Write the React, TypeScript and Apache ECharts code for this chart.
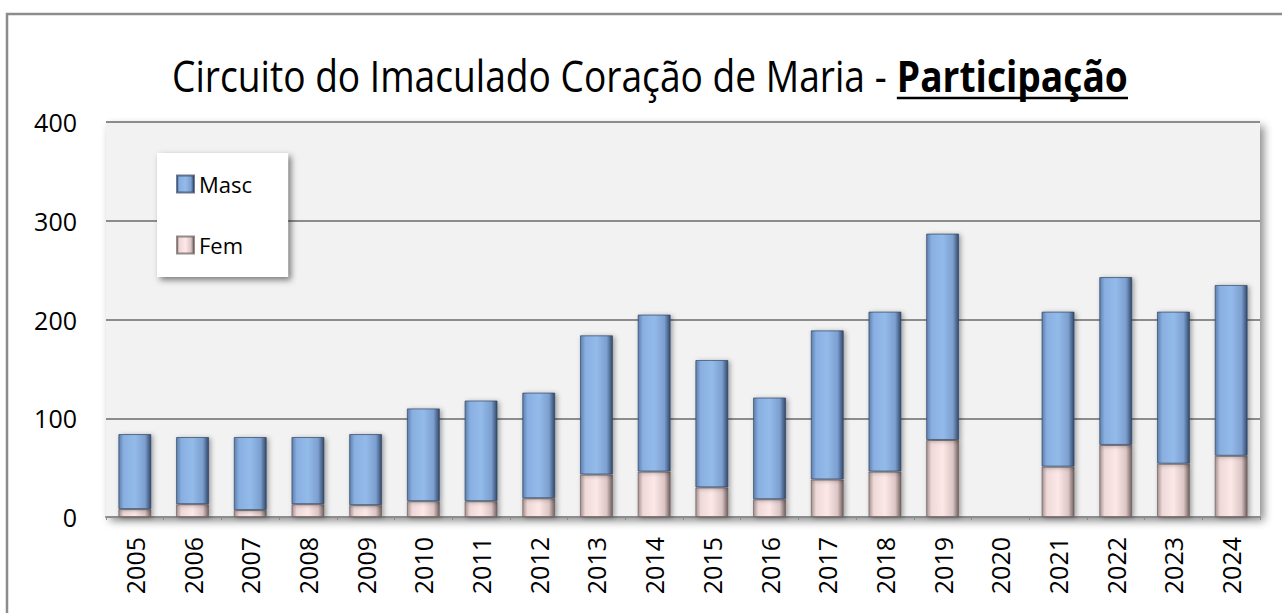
import React, { useEffect, useRef } from "react";
import * as echarts from "echarts";

const years = ["2005","2006","2007","2008","2009","2010","2011","2012","2013","2014","2015","2016","2017","2018","2019","2020","2021","2022","2023","2024"];
const fem = [8, 13, 7, 13, 12, 16, 16, 19, 43, 46, 30, 18, 38, 46, 78, 0, 51, 73, 54, 62];
const masc = [76, 68, 74, 68, 72, 94, 102, 107, 141, 159, 129, 103, 151, 162, 209, 0, 157, 170, 154, 173];
const yMin = 0;
const yMax = 400;
const yStep = 100;
const titleMain = "Circuito do Imaculado Coração de Maria - ";
const titleBold = "Participação";

const FONT = "'Open Sans', 'DejaVu Sans', sans-serif";

export default function App() {
  const ref = useRef<HTMLDivElement>(null);
  useEffect(() => {
    if (!ref.current) return;
    const chart = echarts.init(ref.current, null, { renderer: "svg" });

    // measure title, then condense horizontally to fit the reference width
    const cv = document.createElement("canvas");
    const ctx = cv.getContext("2d")!;
    const size = 43;
    ctx.font = `${size}px 'Open Sans'`;
    const w1 = ctx.measureText(titleMain).width;
    ctx.font = `bold ${size}px 'Open Sans'`;
    const w2 = ctx.measureText(titleBold).width;
    const targetW = 956;
    const s = targetW / (w1 + w2);
    const cx = 650;
    const x0 = cx - targetW / 2;
    const ty = 75;

    const mascGrad = new echarts.graphic.LinearGradient(0, 0, 1, 0, [
      { offset: 0, color: "#5d7fae" },
      { offset: 0.15, color: "#88afe0" },
      { offset: 0.5, color: "#93bbea" },
      { offset: 0.82, color: "#7c9fcf" },
      { offset: 1, color: "#33496b" },
    ]);
    const femGrad = new echarts.graphic.LinearGradient(0, 0, 1, 0, [
      { offset: 0, color: "#a39090" },
      { offset: 0.15, color: "#eed9d8" },
      { offset: 0.5, color: "#fce8e7" },
      { offset: 0.82, color: "#dcc6c5" },
      { offset: 1, color: "#6f5f5f" },
    ]);

    chart.setOption({
      animation: false,
      grid: {
        left: 106,
        right: 22,
        top: 122,
        bottom: 96,
        show: true,
        backgroundColor: "#f2f2f2",
        borderWidth: 0,
        shadowColor: "rgba(0,0,0,0.45)",
        shadowBlur: 8,
        shadowOffsetX: 4,
        shadowOffsetY: 4,
      },
      legend: {
        left: 157,
        top: 153,
        orient: "vertical",
        data: ["Masc", "Fem"],
        backgroundColor: "#ffffff",
        padding: [20, 36, 21, 19],
        itemWidth: 17,
        itemHeight: 17,
        itemGap: 39,
        icon: "rect",
        textStyle: { fontFamily: FONT, fontSize: 22, color: "#000" },
        shadowColor: "rgba(0,0,0,0.5)",
        shadowBlur: 6,
        shadowOffsetX: 3,
        shadowOffsetY: 3,
      },
      xAxis: {
        type: "category",
        data: years,
        axisLine: { lineStyle: { color: "#8c8c8c", width: 2 } },
        axisTick: { show: true, length: 3, lineStyle: { color: "#8c8c8c" } },
        axisLabel: { rotate: 90, fontFamily: FONT, fontSize: 25, color: "#000", margin: 20 },
      },
      yAxis: {
        type: "value",
        min: yMin,
        max: yMax,
        interval: yStep,
        axisLine: { show: false },
        axisTick: { show: false },
        splitLine: { lineStyle: { color: "#8c8c8c", width: 2 } },
        axisLabel: { fontFamily: FONT, fontSize: 25, color: "#000", margin: 29 },
      },
      series: [
        {
          name: "Fem",
          type: "bar",
          stack: "total",
          data: fem,
          barWidth: 33,
          itemStyle: {
            color: femGrad,
            borderColor: "rgba(110,95,95,0.7)",
            borderWidth: 1,
            shadowColor: "rgba(0,0,0,0.35)",
            shadowBlur: 5,
            shadowOffsetX: 2,
            shadowOffsetY: 1,
          },
        },
        {
          name: "Masc",
          type: "bar",
          stack: "total",
          data: masc,
          barWidth: 33,
          itemStyle: {
            color: mascGrad,
            borderColor: "rgba(50,70,100,0.7)",
            borderWidth: 1,
            shadowColor: "rgba(0,0,0,0.35)",
            shadowBlur: 5,
            shadowOffsetX: 2,
            shadowOffsetY: 1,
          },
        },
      ],
      graphic: [
        {
          type: "rect",
          shape: { x: 7, y: 14, width: 1300, height: 640 },
          style: { fill: "none", stroke: "#8c8c8c", lineWidth: 2.5 },
          z: -10,
          silent: true,
        },
        {
          type: "text",
          x: x0,
          y: ty,
          scaleX: s,
          style: {
            text: titleMain,
            font: `${size}px 'Open Sans'`,
            fill: "#000",
            textAlign: "left",
            verticalAlign: "middle",
          },
        },
        {
          type: "text",
          x: x0 + w1 * s,
          y: ty,
          scaleX: s,
          style: {
            text: titleBold,
            font: `bold ${size}px 'Open Sans'`,
            fill: "#000",
            textAlign: "left",
            verticalAlign: "middle",
          },
        },
        {
          type: "line",
          shape: { x1: x0 + w1 * s, y1: 98, x2: x0 + targetW, y2: 98 },
          style: { stroke: "#000", lineWidth: 2.5 },
        },
      ],
    });
    return () => chart.dispose();
  }, []);
  return (
    <div
      ref={ref}
      style={{ position: "fixed", left: 0, top: 0, width: 1282, height: 613, background: "#fff" }}
    />
  );
}
